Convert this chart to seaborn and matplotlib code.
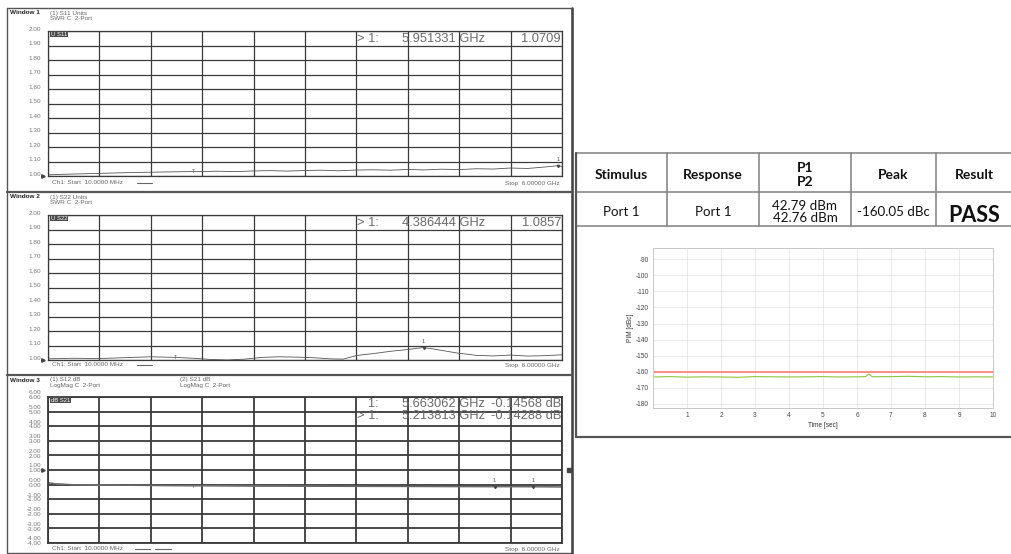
import numpy as np
import matplotlib
matplotlib.use("Agg")
import matplotlib.pyplot as plt
import seaborn as sns
from matplotlib.patches import Rectangle
from matplotlib.ticker import MultipleLocator
from matplotlib.transforms import ScaledTranslation

W, H = 1012, 554

# --- Window 1: S11 SWR trace ---
s11_ghz = [0.01, 0.2, 0.4, 0.6, 0.8, 1.0, 1.2, 1.4, 1.6, 1.8, 2.0, 2.2, 2.4, 2.6, 2.8,
           3.0, 3.2, 3.4, 3.6, 3.8, 4.0, 4.2, 4.4, 4.6, 4.8, 5.0, 5.2, 5.4, 5.6, 5.8, 5.951331, 6.0]
s11_swr = [1.008, 1.012, 1.015, 1.018, 1.021, 1.024, 1.026, 1.028, 1.030, 1.031, 1.033, 1.030,
           1.035, 1.037, 1.034, 1.038, 1.040, 1.036, 1.041, 1.043, 1.040, 1.045, 1.042, 1.047,
           1.044, 1.050, 1.048, 1.055, 1.052, 1.062, 1.0709, 1.066]

# --- Window 2: S22 SWR trace ---
s22_ghz = [0.01, 0.3, 0.6, 0.9, 1.2, 1.5, 1.7, 1.9, 2.1, 2.3, 2.5, 2.7, 2.9, 3.1, 3.3, 3.45,
           3.6, 3.7, 3.8, 3.9, 4.0, 4.1, 4.2, 4.3, 4.386444, 4.5, 4.6, 4.7, 4.8, 4.9, 5.0,
           5.2, 5.4, 5.6, 5.8, 6.0]
s22_swr = [1.008, 1.012, 1.010, 1.016, 1.022, 1.018, 1.012, 1.004, 1.000, 1.006, 1.018, 1.022,
           1.020, 1.016, 1.008, 1.006, 1.030, 1.038, 1.044, 1.052, 1.060, 1.066, 1.072, 1.080,
           1.0857, 1.076, 1.066, 1.056, 1.046, 1.040, 1.032, 1.028, 1.034, 1.027, 1.030, 1.036]

# --- Window 3: S12 / S21 dB traces ---
s2x_ghz = [0.01, 0.1, 0.3, 0.6, 1.0, 1.5, 2.0, 2.5, 3.0, 3.5, 4.0, 4.5, 5.0, 5.213813,
           5.4, 5.663062, 5.8, 6.0]
s12_db = [0.14, 0.06, 0.00, -0.03, -0.05, -0.07, -0.08, -0.10, -0.11, -0.12, -0.13, -0.13,
          -0.14, -0.143, -0.14, -0.14568, -0.15, -0.16]
s21_db = [0.12, 0.05, -0.01, -0.04, -0.06, -0.08, -0.09, -0.11, -0.12, -0.13, -0.13, -0.14,
          -0.14, -0.14288, -0.145, -0.147, -0.15, -0.16]

swr_ticks = [2.00, 1.90, 1.80, 1.70, 1.60, 1.50, 1.40, 1.30, 1.20, 1.10, 1.00]
db_ticks = [6.00, 5.00, 4.00, 3.00, 2.00, 1.00, 0.00, -1.00, -2.00, -3.00, -4.00]
ref_level = 1.00

w1_marker = (5.951331, 1.0709)
w2_marker = (4.386444, 1.0857)
w3_markers = [(5.663062, -0.14568), (5.213813, -0.14288)]

# --- PIM vs time ---
pim_time = [0, 0.5, 1.0, 1.5, 2.0, 2.5, 3.0, 3.5, 4.0, 4.5, 5.0, 5.5, 6.0, 6.25, 6.35, 6.45,
            7.0, 7.5, 8.0, 8.5, 9.0, 9.5, 10.0]
pim_dbc = [-163.2, -163.0, -163.3, -163.1, -163.2, -163.4, -163.0, -163.1, -163.2, -163.1,
           -163.0, -163.2, -163.1, -163.0, -161.3, -163.1, -163.0, -162.8, -163.1, -163.0,
           -163.2, -163.1, -163.2]
limit_time = [0, 10]
limit_dbc = [-160, -160]

table_header = ["Stimulus", "Response", "P1\nP2", "Peak", "Result"]
table_row = ["Port 1", "Port 1", "42.79 dBm\n42.76 dBm", "-160.05 dBc", "PASS"]

sns.set_style("white")
plt.rcParams['font.family'] = ['Liberation Sans', 'DejaVu Sans']
plt.rcParams['axes.unicode_minus'] = False

fig = plt.figure(figsize=(W / 100, H / 100), dpi=100)
fig.patch.set_facecolor('white')


def px_axes(x0, y0, x1, y1, **kw):
    return fig.add_axes([x0 / W, 1 - y1 / H, (x1 - x0) / W, (y1 - y0) / H], **kw)


def vna_window(top, bottom, ticks, double=False, grid_lw=0.9):
    ax = px_axes(48, top, 562, bottom)
    ax.set_xlim(0.01, 6.0)
    ax.set_xticks(np.linspace(0.01, 6.0, 11))
    ax.set_xticklabels([])
    ax.set_ylim(min(ticks), max(ticks))
    ax.set_yticks(ticks)
    if double:
        ax.set_yticklabels([f"{v:.2f}\n{v:.2f}" for v in ticks], linespacing=0.95)
    else:
        ax.set_yticklabels([f"{v:.2f}" for v in ticks])
    ax.tick_params(length=0, labelsize=4.6, labelcolor='#777', pad=5)
    for lab in ax.get_yticklabels():
        lab.set_transform(lab.get_transform() + ScaledTranslation(0, 1.5 / 72, fig.dpi_scale_trans))
    ax.grid(True, color='#3a3a3a', lw=grid_lw)
    for s in ax.spines.values():
        s.set_color('#3a3a3a')
        s.set_linewidth(grid_lw)
    ax.plot([-0.05], [ref_level], marker='>', ms=2.5, color='#444', clip_on=False)
    return ax


def marker_label(ax, f, v):
    ax.annotate("1", xy=(f, v), xytext=(0, 2.5), textcoords='offset points',
                ha='center', va='bottom', fontsize=3.8, color='#444')
    ax.plot([f], [v], marker='v', ms=1.6, color='#444')


# Window 1
ax1 = vna_window(31, 176, swr_ticks)
sns.lineplot(x=s11_ghz, y=s11_swr, ax=ax1, color='#555', lw=0.6)
marker_label(ax1, *w1_marker)
ax1.text(1.71, 1.03, "T", fontsize=3.5, color='#555', ha='center', va='center')

# Window 2
ax2 = vna_window(215, 360, swr_ticks)
sns.lineplot(x=s22_ghz, y=s22_swr, ax=ax2, color='#555', lw=0.6)
marker_label(ax2, *w2_marker)
ax2.text(1.50, 1.018, "T", fontsize=3.5, color='#555', ha='center', va='center')

# Window 3
ax3 = vna_window(397, 543, db_ticks, double=True, grid_lw=1.3)
sns.lineplot(x=s2x_ghz, y=s12_db, ax=ax3, color='#888', lw=0.9)
sns.lineplot(x=s2x_ghz, y=s21_db, ax=ax3, color='#666', lw=0.8)
for f, v in w3_markers:
    marker_label(ax3, f, v)
ax3.text(1.71, -0.15, "T", fontsize=3.5, color='#555', ha='center', va='center')
ax3.plot([6.08], [ref_level], marker='s', ms=2.2, color='#444', clip_on=False)

for ax in (ax1, ax2, ax3):
    ax.set_xlabel('')
    ax.set_ylabel('')

# --- PIM chart ---
pa = px_axes(653, 248, 993, 408)
sns.lineplot(x=limit_time, y=limit_dbc, ax=pa, color='#ff7070', lw=1.1)
sns.lineplot(x=pim_time, y=pim_dbc, ax=pa, color='#8cc63f', lw=0.8)
pa.set_xlim(0, 10)
pa.set_ylim(-182.5, -83)
pa.set_xticks(range(1, 11))
pa.set_yticks(range(-180, -89, 10))
pa.xaxis.set_minor_locator(MultipleLocator(0.2))
pa.tick_params(labelsize=4.7, length=0, colors='#444', pad=3)
pa.tick_params(axis='x', which='minor', length=1.5, direction='in', color='#aaa')
pa.grid(True, color='#e6e6e6', lw=0.6)
for s in pa.spines.values():
    s.set_color('#c8c8c8')
    s.set_linewidth(0.7)
pa.set_xlabel('Time [sec]', fontsize=4.7, labelpad=2, color='#333')
pa.set_ylabel('PIM [dBc]', fontsize=4.7, labelpad=1, color='#333')

# --- overlay for frames and texts ---
ov = fig.add_axes([0, 0, 1, 1], zorder=10)
ov.set_xlim(0, W)
ov.set_ylim(H, 0)
ov.axis('off')
ov.patch.set_alpha(0)

# left panel frame
ov.plot([7, 572, 572, 7, 7], [8, 8, 553, 553, 8], color='#555', lw=1.0)
ov.plot([572, 572], [8, 553], color='#444', lw=1.8)
for y in (192, 375):
    ov.plot([7, 572], [y, y], color='#555', lw=1.6)

small = dict(fontsize=4.6, color='#666', va='center')
headers = [
    (13, "Window 1", ["(1) S11 Units", "SWR C  2-Port"], "U S11", 34),
    (197, "Window 2", ["(1) S22 Units", "SWR C  2-Port"], "U S22", 218),
    (380, "Window 3", ["(1) S12 dB", "LogMag C  2-Port"], "dB S21", 400),
]
for y, wname, lines, tag, tag_y in headers:
    ov.text(10, y, wname, fontsize=4.6, color='#222', va='center', fontweight='bold')
    ov.text(50, y, lines[0], **small)
    ov.text(50, y + 6, lines[1], **small)
    ov.text(51, tag_y, tag, fontsize=4.2, color='white', va='center',
            bbox=dict(boxstyle='square,pad=0.15', fc='#4a4a4a', ec='none'))
ov.text(180, 380, "(2) S21 dB", **small)
ov.text(180, 386, "LogMag C  2-Port", **small)

for y in (183, 365, 549):
    ov.text(52, y, "Ch1: Start  10.0000 MHz", **small)
    ov.text(560, y, "Stop  6.00000 GHz", ha='right', **small)
ov.plot([137, 152], [183, 183], color='#666', lw=0.8)
ov.plot([137, 152], [365, 365], color='#666', lw=0.8)
ov.plot([135, 150], [549, 549], color='#666', lw=0.8)
ov.plot([155, 171], [549, 549], color='#666', lw=0.8)

read = dict(fontsize=9.3, color='#6a6a6a', va='center')
readouts = [
    (39, "> 1:", "5.951331 GHz", "1.0709"),
    (223, "> 1:", "4.386444 GHz", "1.0857"),
    (404, "   1:", "5.663062 GHz", "-0.14568 dB"),
    (416, "> 1:", "5.213813 GHz", "-0.14288 dB"),
]
for y, a, b, c in readouts:
    ov.text(357, y, a, **read)
    ov.text(402, y, b, **read)
    ov.text(561, y, c, ha='right', **read)

# --- right table ---
tcol = '#808080'
col_edges = [576, 667, 759, 851, 936, 1012]
for y in (153, 192, 226):
    ov.plot([576, 1012], [y, y], color=tcol, lw=1.1)
for x in col_edges[1:-1]:
    ov.plot([x, x], [153, 226], color=tcol, lw=1.1)
ov.plot([576, 576], [153, 437], color='#555', lw=1.6)
ov.plot([576, 1012], [437, 437], color='#555', lw=1.6)

tfont = ['Lato', 'DejaVu Sans']
for i, (hd, val) in enumerate(zip(table_header, table_row)):
    cx = (col_edges[i] + col_edges[i + 1]) / 2
    ov.text(cx, 175, hd, ha='center', va='center', fontsize=10, fontweight='bold',
            family=tfont, linespacing=1.1, color='#111')
    if val == "PASS":
        ov.text(cx, 215, val, ha='center', va='center', fontsize=15.5, fontweight='bold',
                family=tfont, color='#111')
    else:
        ov.text(cx, 212, val, ha='center', va='center', fontsize=9.6, family=tfont,
                linespacing=1.05, color='#111')

# crop edge of the PIM screenshot
ov.add_patch(Rectangle((996, 240), 16, 192, color='white', zorder=5))

fig.savefig('out.png', dpi=100, facecolor='white')
